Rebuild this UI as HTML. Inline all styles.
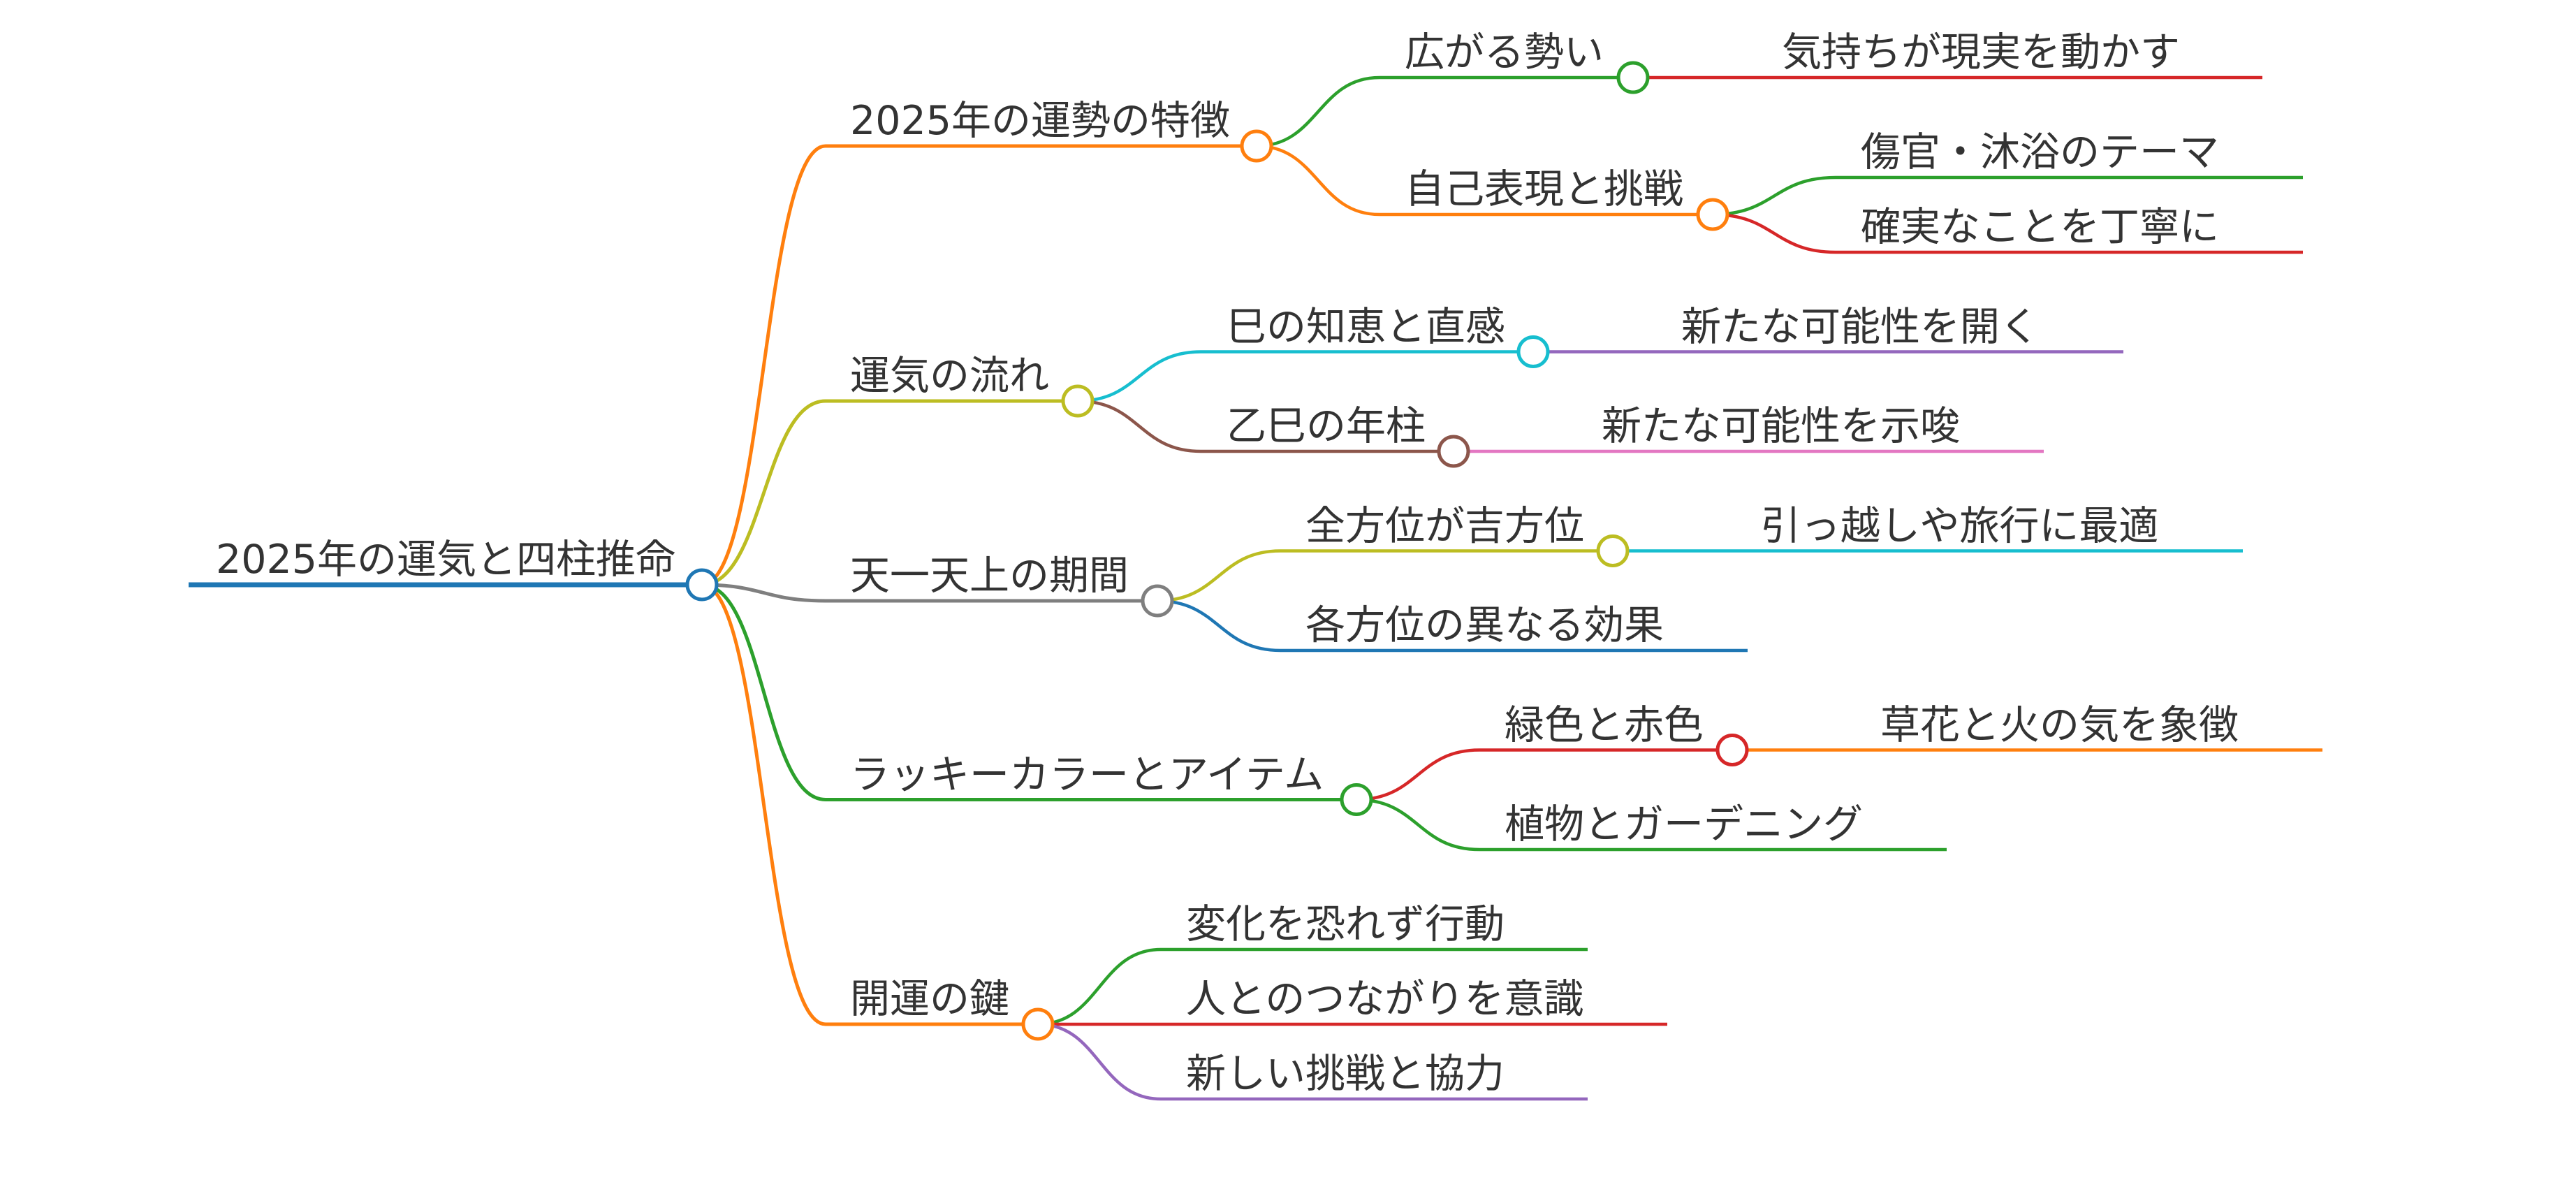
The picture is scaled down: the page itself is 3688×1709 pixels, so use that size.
<!DOCTYPE html>
<html>
<head>
<meta charset="utf-8">
<style>
html,body{margin:0;padding:0;background:#ffffff;}
svg{display:block;}
svg text{font-family:"DejaVu Sans","Noto Sans CJK JP",sans-serif;font-size:57px;fill:#333333;}
</style>
</head>
<body>
<svg width="3688" height="1709" viewBox="0 0 3688 1709" xmlns="http://www.w3.org/2000/svg">
<rect width="3688" height="1709" fill="#ffffff"/>
<g fill="none" stroke-linecap="butt">
  <!-- links from root -->
  <path d="M1005 837 C1093.5 837 1093.5 209 1182 209" stroke="#ff7f0e" stroke-width="5"/>
  <path d="M1005 837 C1093.5 837 1093.5 574 1182 574" stroke="#bcbd22" stroke-width="5"/>
  <path d="M1005 837 C1093.5 837 1093.5 860 1182 860" stroke="#7f7f7f" stroke-width="5"/>
  <path d="M1005 837 C1093.5 837 1093.5 1144.5 1182 1144.5" stroke="#2ca02c" stroke-width="5"/>
  <path d="M1005 837 C1093.5 837 1093.5 1466 1182 1466" stroke="#ff7f0e" stroke-width="5"/>
  <!-- A children -->
  <path d="M1799 209 C1887 209 1887 111 1975 111" stroke="#2ca02c" stroke-width="4.5"/>
  <path d="M1799 209 C1887 209 1887 307 1975 307" stroke="#ff7f0e" stroke-width="4.5"/>
  <path d="M2338 111 L2514 111" stroke="#d62728" stroke-width="4.5"/>
  <path d="M2452 307 C2540 307 2540 254 2628 254" stroke="#2ca02c" stroke-width="4.5"/>
  <path d="M2452 307 C2540 307 2540 361 2628 361" stroke="#d62728" stroke-width="4.5"/>
  <!-- B children -->
  <path d="M1543 574 C1631 574 1631 503.5 1719 503.5" stroke="#17becf" stroke-width="4.5"/>
  <path d="M1543 574 C1631 574 1631 646 1719 646" stroke="#8c564b" stroke-width="4.5"/>
  <path d="M2195 503.5 L2371 503.5" stroke="#9467bd" stroke-width="4.5"/>
  <path d="M2081 646 L2257 646" stroke="#e377c2" stroke-width="4.5"/>
  <!-- C children -->
  <path d="M1657 860 C1745 860 1745 788.5 1833 788.5" stroke="#bcbd22" stroke-width="4.5"/>
  <path d="M1657 860 C1745 860 1745 931 1833 931" stroke="#1f77b4" stroke-width="4.5"/>
  <path d="M2309 788.5 L2485 788.5" stroke="#17becf" stroke-width="4.5"/>
  <!-- D children -->
  <path d="M1942 1144.5 C2030 1144.5 2030 1073.5 2118 1073.5" stroke="#d62728" stroke-width="4.5"/>
  <path d="M1942 1144.5 C2030 1144.5 2030 1216 2118 1216" stroke="#2ca02c" stroke-width="4.5"/>
  <path d="M2480 1073.5 L2656 1073.5" stroke="#ff7f0e" stroke-width="4.5"/>
  <!-- E children -->
  <path d="M1486 1466 C1574 1466 1574 1359 1662 1359" stroke="#2ca02c" stroke-width="4.5"/>
  <path d="M1486 1466 L1662 1466" stroke="#d62728" stroke-width="4.5"/>
  <path d="M1486 1466 C1574 1466 1574 1573 1662 1573" stroke="#9467bd" stroke-width="4.5"/>

  <!-- node underlines -->
  <line x1="270" y1="837" x2="1005" y2="837" stroke="#1f77b4" stroke-width="7"/>
  <line x1="1182" y1="209" x2="1799" y2="209" stroke="#ff7f0e" stroke-width="5"/>
  <line x1="1975" y1="111" x2="2338" y2="111" stroke="#2ca02c" stroke-width="4.5"/>
  <line x1="2514" y1="111" x2="3239" y2="111" stroke="#d62728" stroke-width="4.5"/>
  <line x1="1975" y1="307" x2="2452" y2="307" stroke="#ff7f0e" stroke-width="4.5"/>
  <line x1="2628" y1="254" x2="3297" y2="254" stroke="#2ca02c" stroke-width="4.5"/>
  <line x1="2628" y1="361" x2="3297" y2="361" stroke="#d62728" stroke-width="4.5"/>

  <line x1="1182" y1="574" x2="1543" y2="574" stroke="#bcbd22" stroke-width="5"/>
  <line x1="1719" y1="503.5" x2="2195" y2="503.5" stroke="#17becf" stroke-width="4.5"/>
  <line x1="2371" y1="503.5" x2="3040" y2="503.5" stroke="#9467bd" stroke-width="4.5"/>
  <line x1="1719" y1="646" x2="2081" y2="646" stroke="#8c564b" stroke-width="4.5"/>
  <line x1="2257" y1="646" x2="2926" y2="646" stroke="#e377c2" stroke-width="4.5"/>

  <line x1="1182" y1="860" x2="1657" y2="860" stroke="#7f7f7f" stroke-width="5"/>
  <line x1="1833" y1="788.5" x2="2309" y2="788.5" stroke="#bcbd22" stroke-width="4.5"/>
  <line x1="2485" y1="788.5" x2="3211" y2="788.5" stroke="#17becf" stroke-width="4.5"/>
  <line x1="1833" y1="931" x2="2502" y2="931" stroke="#1f77b4" stroke-width="4.5"/>

  <line x1="1182" y1="1144.5" x2="1942" y2="1144.5" stroke="#2ca02c" stroke-width="5"/>
  <line x1="2118" y1="1073.5" x2="2480" y2="1073.5" stroke="#d62728" stroke-width="4.5"/>
  <line x1="2656" y1="1073.5" x2="3325" y2="1073.5" stroke="#ff7f0e" stroke-width="4.5"/>
  <line x1="2118" y1="1216" x2="2787" y2="1216" stroke="#2ca02c" stroke-width="4.5"/>

  <line x1="1182" y1="1466" x2="1486" y2="1466" stroke="#ff7f0e" stroke-width="5"/>
  <line x1="1662" y1="1359" x2="2273" y2="1359" stroke="#2ca02c" stroke-width="4.5"/>
  <line x1="1662" y1="1466" x2="2387" y2="1466" stroke="#d62728" stroke-width="4.5"/>
  <line x1="1662" y1="1573" x2="2273" y2="1573" stroke="#9467bd" stroke-width="4.5"/>
</g>

<!-- circles -->
<g fill="#ffffff" stroke-width="5">
  <circle cx="1005" cy="837" r="21" stroke="#1f77b4"/>
  <circle cx="1799" cy="209" r="21" stroke="#ff7f0e"/>
  <circle cx="2338" cy="111" r="21" stroke="#2ca02c"/>
  <circle cx="2452" cy="307" r="21" stroke="#ff7f0e"/>
  <circle cx="1543" cy="574" r="21" stroke="#bcbd22"/>
  <circle cx="2195" cy="503.5" r="21" stroke="#17becf"/>
  <circle cx="2081" cy="646" r="21" stroke="#8c564b"/>
  <circle cx="1657" cy="860" r="21" stroke="#7f7f7f"/>
  <circle cx="2309" cy="788.5" r="21" stroke="#bcbd22"/>
  <circle cx="1942" cy="1144.5" r="21" stroke="#2ca02c"/>
  <circle cx="2480" cy="1073.5" r="21" stroke="#d62728"/>
  <circle cx="1486" cy="1466" r="21" stroke="#ff7f0e"/>
</g>

<!-- labels -->
<text x="309" y="820">2025年の運気と四柱推命</text>

<text x="1217" y="192">2025年の運勢の特徴</text>
<text x="2011" y="94">広がる勢い</text>
<text x="2551" y="94">気持ちが現実を動かす</text>
<text x="2011" y="290">自己表現と挑戦</text>
<text x="2664" y="237">傷官・沐浴のテーマ</text>
<text x="2664" y="344">確実なことを丁寧に</text>

<text x="1217" y="557">運気の流れ</text>
<text x="1756" y="487">巳の知恵と直感</text>
<text x="2407" y="487">新たな可能性を開く</text>
<text x="1756" y="629">乙巳の年柱</text>
<text x="2293" y="629">新たな可能性を示唆</text>

<text x="1217" y="843">天一天上の期間</text>
<text x="1869" y="772">全方位が吉方位</text>
<text x="2521" y="772">引っ越しや旅行に最適</text>
<text x="1869" y="914">各方位の異なる効果</text>

<text x="1217" y="1128">ラッキーカラーとアイテム</text>
<text x="2154" y="1057">緑色と赤色</text>
<text x="2692" y="1057">草花と火の気を象徴</text>
<text x="2154" y="1199">植物とガーデニング</text>

<text x="1217" y="1449">開運の鍵</text>
<text x="1698" y="1342">変化を恐れず行動</text>
<text x="1698" y="1449">人とのつながりを意識</text>
<text x="1698" y="1556">新しい挑戦と協力</text>
</svg>
</body>
</html>
